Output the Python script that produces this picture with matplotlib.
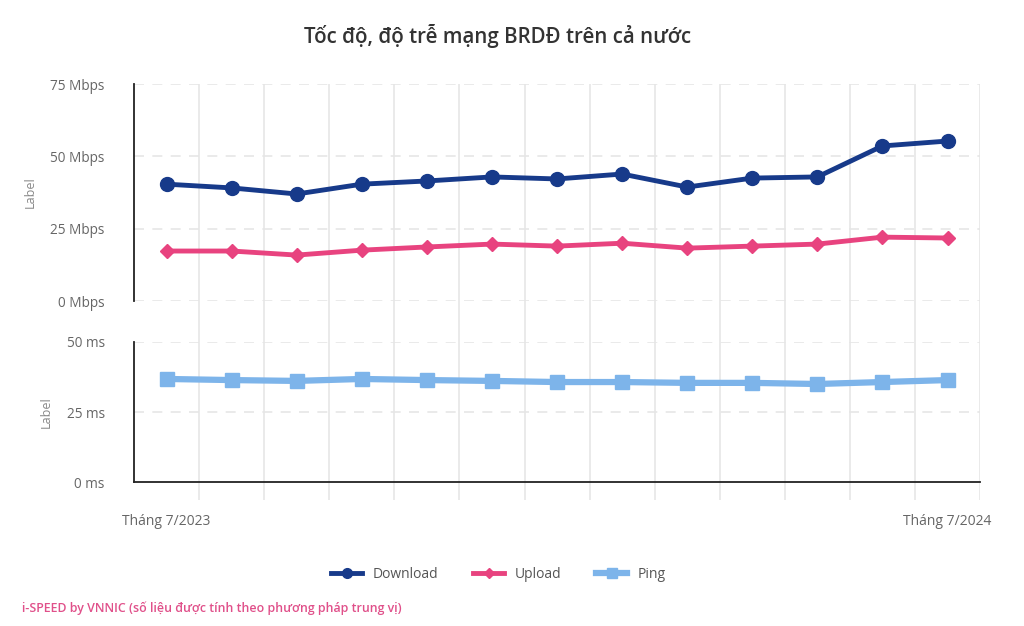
import numpy as np
import matplotlib.pyplot as plt

# values (13 monthly points, 7/2023 -> 7/2024)
months = ["Tháng 7/2023", "", "", "", "", "", "", "", "", "", "", "", "Tháng 7/2024"]
download = [40.4, 39.1, 37.0, 40.4, 41.5, 42.9, 42.2, 43.9, 39.4, 42.5, 42.9, 53.6, 55.3]
upload = [17.3, 17.3, 15.9, 17.6, 18.7, 19.7, 19.0, 20.0, 18.3, 19.0, 19.7, 22.1, 21.8]
ping = [36.8, 36.4, 36.1, 36.8, 36.4, 36.1, 35.7, 35.7, 35.4, 35.4, 35.0, 35.7, 36.4]

speed_ticks = [0, 25, 50, 75]
ping_ticks = [0, 25, 50]

plt.rcParams['font.family'] = ['Open Sans', 'DejaVu Sans']

x = np.arange(len(months))
c_down = '#173a8a'
c_up = '#e8437f'
c_ping = '#7db4ea'
grid_c = '#e6e6e6'
tick_c = '#666666'

fig = plt.figure(figsize=(10.24, 6.26), dpi=100)

# background axes carrying the vertical grid through both panels
ax_bg = fig.add_axes([0.1309, 0.2013, 0.8262, 0.6645])
ax_bg.set_xlim(-0.5, len(months) - 0.5)
ax_bg.set_ylim(0, 1)
for b in np.arange(0.5, len(months), 1.0):
    ax_bg.axvline(b, color=grid_c, lw=1.2, zorder=0)
ax_bg.axis('off')

# speed panel
ax1 = fig.add_axes([0.1309, 0.519, 0.8262, 0.3468])
ax1.patch.set_alpha(0)
ax1.set_xlim(-0.5, len(months) - 0.5)
ax1.set_ylim(0, 75)
ax1.set_yticks(speed_ticks)
ax1.set_yticklabels([f"{t} Mbps" for t in speed_ticks])
for t in speed_ticks:
    ax1.axhline(t, color=grid_c, lw=1.2, ls=(0, (6, 5)), zorder=1)
ax1.plot(x, download, color=c_down, lw=3.5, marker='o', ms=10, zorder=4, label='Download')
ax1.plot(x, upload, color=c_up, lw=3.5, marker='D', ms=7, zorder=3, label='Upload')
ax1.set_xticks([])
for s in ['top', 'right', 'bottom']:
    ax1.spines[s].set_visible(False)
ax1.spines['left'].set_color('#222222')
ax1.spines['left'].set_linewidth(1.3)
ax1.tick_params(axis='y', length=0, pad=21, labelsize=9.8, labelcolor=tick_c)
ax1.set_ylabel('Label', color='#888888', fontsize=9, labelpad=10)

# ping panel
ax2 = fig.add_axes([0.1309, 0.230, 0.8262, 0.2237])
ax2.patch.set_alpha(0)
ax2.set_xlim(-0.5, len(months) - 0.5)
ax2.set_ylim(0, 50)
ax2.set_yticks(ping_ticks)
ax2.set_yticklabels([f"{t} ms" for t in ping_ticks])
for t in ping_ticks[1:]:
    ax2.axhline(t, color=grid_c, lw=1.2, ls=(0, (6, 5)), zorder=1)
ax2.plot(x, ping, color=c_ping, lw=4.5, marker='s', ms=10, zorder=3, label='Ping')
ax2.set_xticks(x)
ax2.set_xticklabels(months)
for s in ['top', 'right']:
    ax2.spines[s].set_visible(False)
for s in ['left', 'bottom']:
    ax2.spines[s].set_color('#222222')
    ax2.spines[s].set_linewidth(1.3)
ax2.tick_params(axis='y', length=0, pad=21, labelsize=9.8, labelcolor=tick_c)
ax2.tick_params(axis='x', length=0, pad=23, labelsize=10, labelcolor=tick_c)
ax2.set_ylabel('Label', color='#888888', fontsize=9, labelpad=10)

fig.text(0.486, 0.942, 'Tốc độ, độ trễ mạng BRDĐ trên cả nước', ha='center', va='center',
         fontsize=14.8, fontweight='semibold', color='#333333')

h1, l1 = ax1.get_legend_handles_labels()
h2, l2 = ax2.get_legend_handles_labels()
fig.legend(h1 + h2, l1 + l2, loc='center', bbox_to_anchor=(0.487, 0.082), ncol=3,
           frameon=False, fontsize=10, labelcolor='#555555', handlelength=2.2,
           columnspacing=2.5, markerscale=0.7)

fig.text(0.021, 0.028, 'i-SPEED by VNNIC (số liệu được tính theo phương pháp trung vị)',
         ha='left', va='center', fontsize=8.9, color='#e0508a', fontweight='semibold')

fig.savefig('out.png', dpi=100, facecolor='white')
